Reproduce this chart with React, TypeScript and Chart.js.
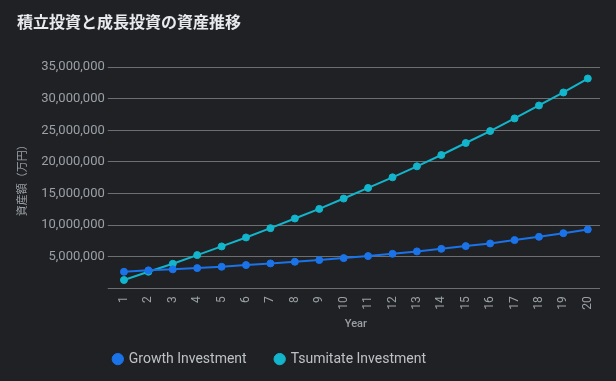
import React, { useEffect, useRef } from "react";
import { Chart, registerables } from "chart.js";

Chart.register(...registerables);

const years = ["1","2","3","4","5","6","7","8","9","10","11","12","13","14","15","16","17","18","19","20"];
const growthValues = [2620000, 2840000, 3000000, 3200000, 3410000, 3680000, 3940000, 4200000, 4470000, 4780000, 5100000, 5460000, 5840000, 6250000, 6680000, 7100000, 7630000, 8150000, 8730000, 9320000];
const tsumitateValues = [1310000, 2620000, 3880000, 5260000, 6630000, 8050000, 9520000, 11050000, 12570000, 14210000, 15890000, 17570000, 19310000, 21100000, 23000000, 24890000, 26890000, 28940000, 31000000, 33210000];

const TITLE = "積立投資と成長投資の資産推移";
const Y_TITLE = "資産額（万円）";
const X_TITLE = "Year";

const FONT = "Roboto, 'Noto Sans CJK JP', sans-serif";

const legendShift = {
  id: "legendShift",
  beforeDraw(chart: any) {
    const l = chart.legend;
    if (!l) return;
    const pad = l.options.labels.padding;
    const h = l.bottom - l.top;
    l.left = 113.8 - pad;
    l.right = chart.width;
    l.top = 360.5 - pad - 8.4;
    l.bottom = l.top + h;
  },
};

export default function App() {
  const ref = useRef<HTMLCanvasElement | null>(null);
  useEffect(() => {
    if (!ref.current) return;
    const chart = new Chart(ref.current, {
      type: "line",
      data: {
        labels: years,
        datasets: [
          {
            label: "Growth Investment",
            data: growthValues,
            borderColor: "#1a73e8",
            backgroundColor: "#1a73e8",
            borderWidth: 2,
            pointRadius: 3.5,
            pointBorderWidth: 1,
            pointBackgroundColor: "#1a73e8",
            pointBorderColor: "#1a73e8",
            tension: 0,
          },
          {
            label: "Tsumitate Investment",
            data: tsumitateValues,
            borderColor: "#12b5cb",
            backgroundColor: "#12b5cb",
            borderWidth: 2,
            pointRadius: 3.5,
            pointBorderWidth: 1,
            pointBackgroundColor: "#12b5cb",
            pointBorderColor: "#12b5cb",
            tension: 0,
          },
        ],
      },
      options: {
        animation: false,
        responsive: false,
        maintainAspectRatio: false,
        layout: { padding: { left: 17, right: 16, top: 10, bottom: -3 } },
        plugins: {
          title: {
            display: true,
            text: TITLE,
            align: "start",
            color: "#e8eaed",
            font: { family: FONT, size: 16, weight: "bold" },
            padding: { top: 4, bottom: 34 },
          },
          legend: {
            position: "bottom",
            align: "start",
            labels: {
              usePointStyle: true,
              pointStyle: "circle",
              boxWidth: 8,
              boxHeight: 8,
              padding: 29,
              color: "#bdc1c6",
              font: { family: FONT, size: 14 },
            },
          },
          tooltip: { enabled: false },
        },
        scales: {
          x: {
            offset: true,
            grid: { display: false, drawTicks: true, tickLength: 4 },
            border: { display: false },
            ticks: {
              color: "#9aa0a6",
              font: { family: FONT, size: 12 },
              minRotation: 90,
              maxRotation: 90,
              padding: 4,
            },
            title: {
              display: true,
              text: X_TITLE,
              color: "#9aa0a6",
              font: { family: FONT, size: 11, weight: "500" },
              padding: { top: 4, bottom: 0 },
            },
          },
          y: {
            min: 0,
            max: 35000000,
            grid: { color: "rgba(255,255,255,0.35)", lineWidth: 1, tickLength: 4, drawTicks: true },
            border: { display: false },
            ticks: {
              stepSize: 5000000,
              color: "#9aa0a6",
              font: { family: FONT, size: 13 },
              padding: 3,
              callback: (v: any) => (v === 0 ? "" : Number(v).toLocaleString("en-US")),
            },
            title: {
              display: true,
              text: Y_TITLE,
              color: "#9aa0a6",
              font: { family: FONT, size: 11 },
              padding: { top: 0, bottom: 8 },
            },
          },
        },
      },
      plugins: [legendShift],
    });
    return () => chart.destroy();
  }, []);
  return (
    <div style={{ position: "fixed", left: 0, top: 0, width: 616, height: 381, background: "#202124" }}>
      <canvas ref={ref} width={616} height={381} style={{ display: "block", width: 616, height: 381 }} />
    </div>
  );
}
